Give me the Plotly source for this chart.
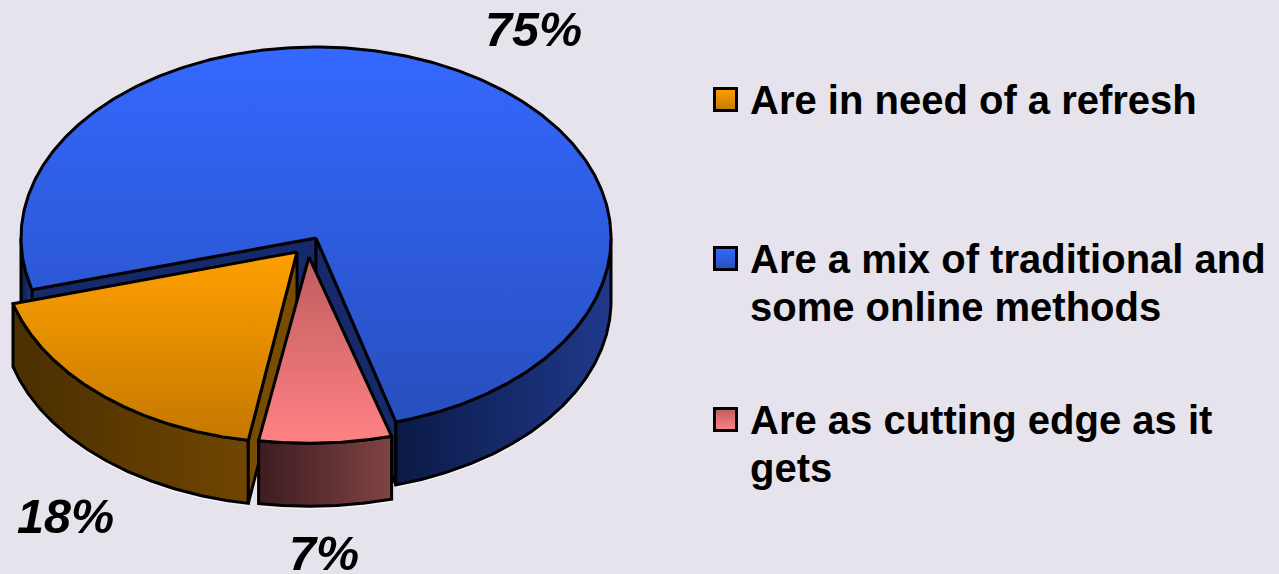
import numpy as np
import plotly.graph_objects as go

# Survey shares, in legend order
categories = ["Are in need of a refresh",
              "Are a mix of traditional and<br>some online methods",
              "Are as cutting edge as it<br>gets"]
values = [18, 75, 7]

# Per-slice styling: top face gradient, rim gradient, cut face colour
top_colors = [("#FFA000", "#C47800"), ("#3468FF", "#284FBE"), ("#BE5C5E", "#FF8284")]
rim_colors = [("#4A2F00", "#704600"), ("#0A1A45", "#20398C"), ("#3C1C20", "#804444")]
cut_colors = ["#7A4C00", "#16296A", "#7A4444"]

# Pie geometry, in axis units
CENTER = (316, 238)
RX, RY = 295, 191
DEPTH = 63
START_ANGLE = 189.5
explode = [(-19, 14), (0, 0), (-7, 19)]
radius_scale = [(1.0, 1.0), (1.0, 1.0), (1.035, 0.975)]

BG = "#E6E3ED"
EDGE = dict(color="black", width=3)

fig = go.Figure()


def ellipse_arc(cx, cy, rx, ry, t0, t1, n=180):
    t = np.radians(np.linspace(t0, t1, n))
    return cx + rx * np.sin(t), cy - ry * np.cos(t)


def polygon(x, y, colors, kind, name):
    # The y axis runs downwards, so the gradient's far end is the visual top
    scale = [[0, colors[1]], [1, colors[0]]] if kind == "vertical" else [[0, colors[0]], [1, colors[1]]]
    fig.add_trace(go.Scatter(
        x=list(x) + [x[0]], y=list(y) + [y[0]], mode="lines", fill="toself",
        fillgradient=dict(type=kind, colorscale=scale),
        line=EDGE, name=name, hoverinfo="skip", showlegend=False))


def rim(cx, cy, rx, ry, t0, t1, colors, name):
    # Outer wall between two angles on the near half of the ellipse
    ax, ay = ellipse_arc(cx, cy, rx, ry, t0, t1)
    # A thin light line along the lower edge of the wall
    fig.add_trace(go.Scatter(x=ax, y=ay + DEPTH + 2.4, mode="lines",
                             line=dict(color="#F4F4F8", width=1.2),
                             hoverinfo="skip", showlegend=False))
    polygon(np.r_[ax, ax[::-1]], np.r_[ay, ay[::-1] + DEPTH], colors, "horizontal", name)


# Angular extent of each slice, clockwise from twelve o'clock
spans = np.array(values) / sum(values) * 360
starts = START_ANGLE + np.r_[0, np.cumsum(spans)[:-1]]
ends = starts + spans

geom = []
for i in range(len(values)):
    cx = CENTER[0] + explode[i][0]
    cy = CENTER[1] + explode[i][1]
    geom.append((cx, cy, RX * radius_scale[i][0], RY * radius_scale[i][1], starts[i], ends[i]))

# Back to front: blue, then orange, then pink
for i in (1, 0, 2):
    cx, cy, rx, ry, t0, t1 = geom[i]
    name = categories[i].replace("<br>", " ")
    ex0, ey0 = ellipse_arc(cx, cy, rx, ry, t0, t0, 1)
    ex1, ey1 = ellipse_arc(cx, cy, rx, ry, t1, t1, 1)

    if i == 1:
        # Faces exposed where the two neighbouring slices were pulled out
        for ex, ey in ((ex0[0], ey0[0]), (ex1[0], ey1[0])):
            polygon([cx, ex, ex, cx], [cy, ey, ey + DEPTH, cy + DEPTH],
                    (cut_colors[i], cut_colors[i]), "vertical", name)
        # Visible wall on the right and a short piece on the far left
        rim(cx, cy, rx, ry, 90, t1 - 360, rim_colors[i], name)
        rim(cx, cy, rx, ry, t0, 270, rim_colors[i], name)
    elif i == 0:
        rim(cx, cy, rx, ry, t0, t1, rim_colors[i], name)
        polygon([cx, ex0[0], ex0[0], cx], [cy, ey0[0], ey0[0] + DEPTH, cy + DEPTH],
                (cut_colors[i], cut_colors[i]), "vertical", name)
    else:
        rim(cx, cy, rx, ry, t0, t1, rim_colors[i], name)

    ax, ay = ellipse_arc(cx, cy, rx, ry, t0, t1, 400)
    polygon(np.r_[cx, ax], np.r_[cy, ay], top_colors[i], "vertical", name)

# Legend swatches as square markers
swatch_y = [99.5, 258.5, 419.5]
for i, y in enumerate(swatch_y):
    fig.add_trace(go.Scatter(
        x=[725.5], y=[y], mode="markers", hoverinfo="skip", showlegend=False,
        marker=dict(symbol="square", size=22, color=top_colors[i][0],
                    gradient=dict(type="vertical", color=top_colors[i][1]),
                    line=dict(color="black", width=3))))

annotations = []
LEGEND_LINE = 48
for text, y in zip(categories, swatch_y):
    # One annotation per line, so the line spacing stays independent of the font size
    for k, line in enumerate(text.split("<br>")):
        annotations.append(dict(
            x=747.5, y=y + 0.5 + k * LEGEND_LINE, text=f"<b>{line}</b>", xref="x", yref="y",
            showarrow=False, xanchor="left", yanchor="middle", align="left",
            font=dict(family="Liberation Sans", size=40, color="black")))

value_pos = [(65.5, 516), (533.5, 29), (324, 553)]
for v, (x, y) in zip(values, value_pos):
    annotations.append(dict(
        x=x, y=y, text=f"<b><i>{v}%</i></b>", xref="x", yref="y", showarrow=False,
        xanchor="center", yanchor="middle",
        font=dict(family="Liberation Sans", size=48.5, color="black")))

fig.update_layout(
    width=1279, height=574, margin=dict(l=0, r=0, t=0, b=0),
    paper_bgcolor=BG, plot_bgcolor=BG, showlegend=False, annotations=annotations,
    xaxis=dict(range=[0, 1279], visible=False, fixedrange=True),
    yaxis=dict(range=[574, 0], visible=False, fixedrange=True),
)

fig.write_html("out.html", config=dict(displayModeBar=False))
